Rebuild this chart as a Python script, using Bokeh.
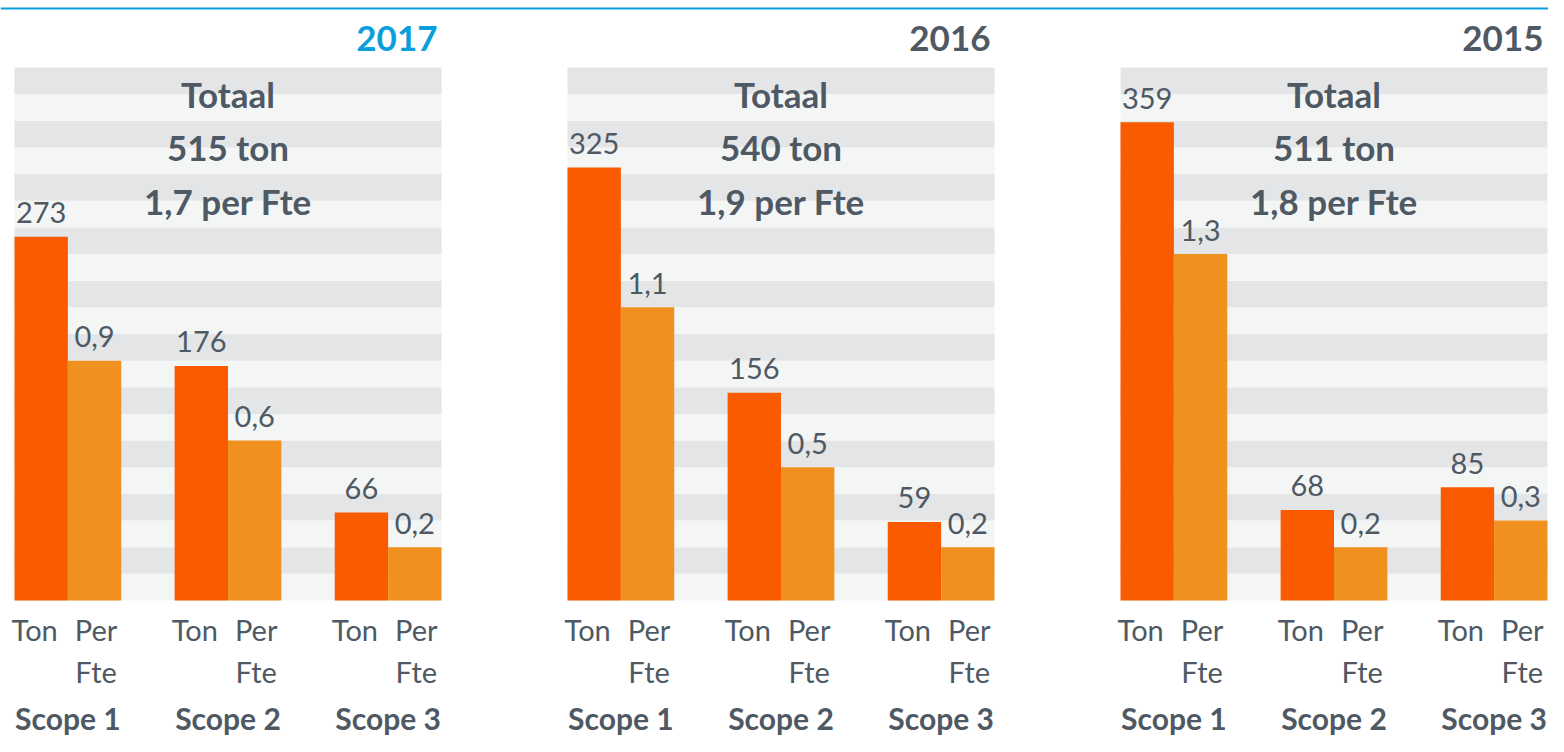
from bokeh.plotting import figure
from bokeh.models import Range1d, Span
from bokeh.core.properties import value
from bokeh.embed import file_html
from bokeh.resources import INLINE

# ---------------- data ----------------
years = ["2017", "2016", "2015"]
scopes = ["Scope 1", "Scope 2", "Scope 3"]
ton_2017 = [273, 176, 66]
ton_2016 = [325, 156, 59]
ton_2015 = [359, 68, 85]
fte_2017 = [0.9, 0.6, 0.2]
fte_2016 = [1.1, 0.5, 0.2]
fte_2015 = [1.3, 0.2, 0.3]
total_ton = [515, 540, 511]
total_fte = [1.7, 1.9, 1.8]
total_title = "Totaal"
ton_label = "Ton"
fte_label_top = "Per"
fte_label_bottom = "Fte"

ton_by_year = [ton_2017, ton_2016, ton_2015]
fte_by_year = [fte_2017, fte_2016, fte_2015]

# ---------------- style / layout ----------------
FONT = "Lato"
GRAY = "#4e5963"
BLUE = "#0a9fdc"
TON_COLOR = "#fa5a00"
FTE_COLOR = "#f0901f"
STRIPE_DARK = "#e4e5e7"
STRIPE_LIGHT = "#f4f6f6"

W, H = 1548, 736
U = 427 / 8.0            # px per x unit (one bar)
P = 533 / 400.0          # px per ton
FTE_FACTOR = 200.0       # ton-axis units per fte unit
panel_left_px = [14, 567, 1120]
base_px = 600            # bar baseline, px from top


def ypx(px):
    """data (ton) value for a vertical pixel position from the top"""
    return (base_px - px) / P


x_start = -panel_left_px[0] / U
x_end = x_start + W / U
offsets = [(pl - panel_left_px[0]) / U for pl in panel_left_px]
y_start = ypx(H)
y_end = ypx(0)

p = figure(width=W, height=H, output_backend="svg", toolbar_location=None,
           tools="", x_range=Range1d(x_start, x_end), y_range=Range1d(y_start, y_end),
           x_axis_location=None, y_axis_location=None, min_border=0)
p.extra_y_ranges = {"fte": Range1d(y_start / FTE_FACTOR, y_end / FTE_FACTOR)}
p.grid.visible = False
p.outline_line_color = None
p.background_fill_color = "white"
p.border_fill_color = "white"

p.add_layout(Span(location=ypx(8), dimension="width",
                  line_color=BLUE, line_width=2))


def fmt(v):
    return f"{v:.1f}".replace(".", ",")


def txt(**kw):
    kw.setdefault("text_font", value(FONT))
    kw.setdefault("text_color", GRAY)
    kw.setdefault("text_align", "center")
    kw.setdefault("text_baseline", "middle")
    p.text(**kw)


n_bands = 20
band = 400 / n_bands
label_gap = 24 / P   # from bar top to centre of value label
for k, off in enumerate(offsets):
    # stripes
    p.quad(left=[off] * n_bands, right=[off + 8] * n_bands,
           bottom=[i * band for i in range(n_bands)],
           top=[(i + 1) * band for i in range(n_bands)],
           fill_color=[STRIPE_LIGHT if i % 2 == 0 else STRIPE_DARK for i in range(n_bands)],
           line_color=None)

    tons = ton_by_year[k]
    ftes = fte_by_year[k]
    ton_x = [off + 3 * g + 0.5 for g in range(3)]
    fte_x = [off + 3 * g + 1.5 for g in range(3)]
    grp_x = [off + 3 * g + 1.0 for g in range(3)]

    p.vbar(x=ton_x, top=tons, bottom=0, width=1.0, fill_color=TON_COLOR, line_color=None)
    p.vbar(x=fte_x, top=ftes, bottom=0, width=1.0, fill_color=FTE_COLOR, line_color=None,
           y_range_name="fte")

    # value labels
    txt(x=ton_x, y=[t + label_gap for t in tons], text=[str(t) for t in tons],
        text_font_size="29px")
    txt(x=fte_x, y=[f + label_gap / FTE_FACTOR for f in ftes], text=[fmt(f) for f in ftes],
        text_font_size="29px", y_range_name="fte")

    # year title
    txt(x=[off + 423 / U], y=[ypx(38)], text=[years[k]], text_font_size="35px",
        text_font_style="bold", text_color=BLUE if k == 0 else GRAY, text_align="right")

    # totals
    txt(x=[off + 4] * 3, y=[ypx(93.5), ypx(146.5), ypx(200)],
        text=[total_title, f"{total_ton[k]} ton", f"{fmt(total_fte[k])} per Fte"],
        text_font_size="35px", text_font_style="bold")

    # category labels
    txt(x=[x - 6.5 / U for x in ton_x], y=[ypx(629)] * 3, text=[ton_label] * 3,
        text_font_size="29px")
    txt(x=[x + 1.5 / U for x in fte_x], y=[ypx(629)] * 3, text=[fte_label_top] * 3,
        text_font_size="29px")
    txt(x=[x + 1.5 / U for x in fte_x], y=[ypx(671)] * 3, text=[fte_label_bottom] * 3,
        text_font_size="29px")
    txt(x=grp_x, y=[ypx(717)] * 3, text=scopes, text_font_size="30px",
        text_font_style="bold")

open("out.html", "w").write(file_html(p, INLINE))
